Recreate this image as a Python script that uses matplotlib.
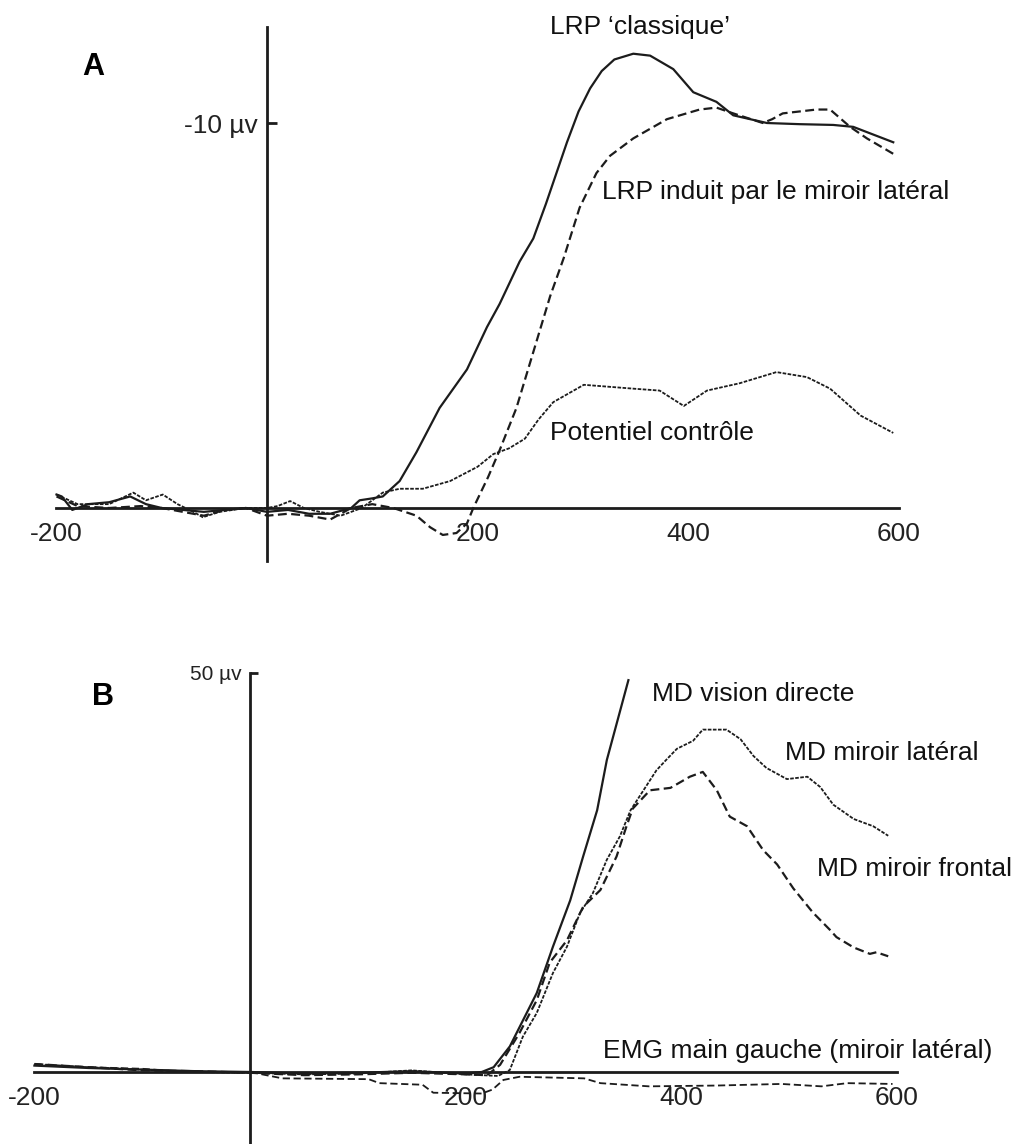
import matplotlib
matplotlib.use('Agg')
import matplotlib.pyplot as plt

plt.rcParams['font.family'] = ['Liberation Sans', 'DejaVu Sans']

# ---- panel A : LRP (µV, negative up) ----
t_classique = [-200, -195, -185, -170, -150, -130, -115, -100, -80, -60, -40, -20, 0, 20, 40, 60,
               80, 88, 100, 110, 126, 142, 164, 190, 209, 221, 240, 253, 265, 285, 296, 307, 318,
               330, 348, 364, 386, 405, 427, 443, 475, 506, 538, 557, 595]
v_classique = [-0.35, -0.3, 0.05, -0.1, -0.15, -0.3, -0.1, 0.0, 0.05, 0.1, 0.05, 0.0, 0.1, 0.05,
               0.15, 0.15, 0.0, -0.2, -0.25, -0.3, -0.7, -1.45, -2.6, -3.6, -4.7, -5.3, -6.4,
               -7.0, -7.9, -9.5, -10.3, -10.9, -11.35, -11.65, -11.8, -11.75, -11.4, -10.8,
               -10.55, -10.2, -10.0, -9.97, -9.95, -9.9, -9.5]

t_miroir = [-200, -180, -150, -120, -100, -80, -60, -40, -20, 0, 20, 40, 60, 80, 100, 120, 142,
            155, 167, 180, 190, 196, 210, 221, 237, 253, 269, 282, 297, 313, 326, 348, 380, 411,
            427, 443, 471, 480, 490, 522, 535, 554, 570, 595]
v_miroir = [-0.3, -0.05, 0.0, -0.05, 0.0, 0.1, 0.2, 0.05, 0.0, 0.2, 0.15, 0.2, 0.3, 0.0, -0.1,
            0.0, 0.2, 0.5, 0.7, 0.65, 0.4, 0.0, -0.8, -1.5, -2.6, -4.05, -5.5, -6.5, -7.8, -8.7,
            -9.15, -9.6, -10.1, -10.35, -10.4, -10.25, -10.0, -10.1, -10.25, -10.35, -10.35,
            -9.9, -9.6, -9.2]

t_controle = [-200, -180, -150, -127, -115, -99, -85, -70, -61, -45, -20, 0, 10, 22, 35, 50, 70,
              90, 110, 126, 148, 174, 200, 215, 230, 245, 258, 272, 301, 348, 373, 396, 418, 449,
              484, 513, 535, 564, 595]
v_controle = [-0.35, -0.1, -0.1, -0.4, -0.2, -0.35, -0.1, 0.1, 0.24, 0.1, 0.0, 0.0, -0.05, -0.18,
              0.0, 0.1, 0.2, 0.0, -0.4, -0.5, -0.5, -0.7, -1.07, -1.4, -1.55, -1.8, -2.3, -2.75,
              -3.2, -3.1, -3.05, -2.65, -3.05, -3.24, -3.53, -3.4, -3.1, -2.4, -1.95]

# ---- panel B : EMG (µV) ----
t_directe = [-200, -150, -100, -50, 0, 50, 100, 150, 200, 215, 226, 241, 266, 281, 297, 309, 322,
             331, 351]
v_directe = [0.8, 0.5, 0.3, 0.1, 0.0, -0.2, -0.1, 0.1, -0.2, 0.0, 0.6, 3.2, 9.9, 15.7, 21.5, 27.0,
             32.8, 39.1, 49.1]

t_lateral = [-200, -150, -100, -50, 0, 50, 100, 150, 200, 230, 241, 253, 266, 281, 294, 306, 318,
             331, 343, 353, 365, 377, 386, 396, 411, 420, 442, 455, 467, 479, 498, 517, 529, 541,
             560, 578, 592]
v_lateral = [0.9, 0.6, 0.3, 0.0, -0.1, -0.3, -0.2, 0.2, -0.3, -0.5, 0.25, 4.4, 7.4, 12.4, 15.7,
             19.9, 22.4, 26.6, 29.5, 32.8, 35.3, 37.8, 39.1, 40.5, 41.5, 42.9, 42.9, 41.7, 39.6,
             38.1, 36.7, 37.0, 35.7, 33.5, 31.7, 30.8, 29.6]

t_frontal = [-200, -150, -100, -50, 0, 50, 100, 150, 200, 220, 232, 250, 266, 278, 294, 309, 325,
             340, 349, 355, 371, 390, 408, 420, 433, 445, 461, 476, 489, 504, 522, 538, 544, 560,
             575, 581, 592]
v_frontal = [1.0, 0.6, 0.2, 0.1, -0.1, -0.4, -0.3, -0.1, -0.3, -0.4, 0.9, 4.9, 9.0, 13.7, 16.5,
             20.7, 22.8, 27.0, 30.7, 33.0, 35.3, 35.6, 37.0, 37.6, 35.3, 32.0, 30.8, 27.8, 26.0,
             23.0, 20.0, 17.8, 16.9, 15.6, 14.8, 15.0, 14.5]

t_emg = [-200, -150, -100, -60, 0, 30, 110, 120, 160, 170, 215, 225, 235, 250, 310, 325, 370, 433,
         493, 530, 554, 596]
v_emg = [1.0, 0.6, 0.4, 0.0, 0.0, -0.8, -0.9, -1.4, -1.6, -2.6, -2.7, -2.2, -1.0, -0.6, -0.8,
         -1.4, -1.8, -1.7, -1.5, -1.8, -1.4, -1.5]

xtick_vals = [-200, 200, 400, 600]
xtick_labels = ['-200', '200', '400', '600']

ink = '#1c1c1c'
fig = plt.figure(figsize=(10.16, 11.44), dpi=100)


def style_axes(ax, ybounds):
    for s in ['top', 'right']:
        ax.spines[s].set_visible(False)
    ax.spines['left'].set_position(('data', 0))
    ax.spines['bottom'].set_position(('data', 0))
    ax.spines['left'].set_bounds(*ybounds)
    ax.spines['bottom'].set_bounds(-200, 600)
    for s in ['left', 'bottom']:
        ax.spines[s].set_linewidth(2.0)
        ax.spines[s].set_color(ink)
    ax.set_xticks(xtick_vals, labels=xtick_labels)
    ax.set_xticks([200, 400], minor=True)
    ax.tick_params(axis='x', which='major', length=0, pad=10, labelsize=19, labelcolor='#222222')
    ax.tick_params(axis='x', which='minor', direction='in', length=8, width=2, color=ink)
    ax.patch.set_visible(False)


# panel A
axA = fig.add_axes([0.03489, 0.5021, 0.8702, 0.4846])
axA.set_xlim(-220, 620)
axA.set_ylim(1.6, -12.8)
style_axes(axA, (1.38, -12.5))
axA.set_yticks([-10], labels=['-10 µv'])
axA.tick_params(axis='y', direction='in', length=7, width=2, color=ink, pad=6.5,
                labelsize=19, labelcolor='#222222')
axA.plot(t_classique, v_classique, color=ink, lw=1.6)
axA.plot(t_miroir, v_miroir, color=ink, lw=1.6, linestyle=(0, (4, 2)))
axA.plot(t_controle, v_controle, color=ink, lw=1.3, linestyle=(0, (2, 0.8)))
axA.text(-165, -11.45, 'A', fontsize=22, fontweight='bold', ha='center', va='center')
axA.text(269, -12.5, 'LRP ‘classique’', fontsize=19, ha='left', va='center', color='#111111')
axA.text(318, -8.2, 'LRP induit par le miroir latéral', fontsize=19, ha='left', va='center',
         color='#111111')
axA.text(269, -1.95, 'Potentiel contrôle', fontsize=19, ha='left', va='center', color='#111111')

# panel B
axB = fig.add_axes([0.01264, -0.0068, 0.8913, 0.4325])
axB.set_xlim(-220, 620)
axB.set_ylim(-10, 52)
style_axes(axB, (-10, 50))
axB.set_yticks([50], labels=['50 µv'])
axB.tick_params(axis='y', direction='in', length=6, width=2, color=ink, pad=6,
                labelsize=15, labelcolor='#222222')
axB.plot(t_directe, v_directe, color=ink, lw=1.6)
axB.plot(t_lateral, v_lateral, color=ink, lw=1.3, linestyle=(0, (2, 0.8)))
axB.plot(t_frontal, v_frontal, color=ink, lw=1.6, linestyle=(0, (4, 2)))
axB.plot(t_emg, v_emg, color=ink, lw=1.3, linestyle=(0, (4, 2)))
axB.text(-136, 47, 'B', fontsize=22, fontweight='bold', ha='center', va='center')
axB.text(373, 47.4, 'MD vision directe', fontsize=19, ha='left', va='center', color='#111111')
axB.text(496, 40, 'MD miroir latéral', fontsize=19, ha='left', va='center', color='#111111')
axB.text(526, 25.4, 'MD miroir frontal', fontsize=19, ha='left', va='center', color='#111111')
axB.text(327, 2.6, 'EMG main gauche (miroir latéral)', fontsize=19, ha='left', va='center',
         color='#111111')

fig.savefig('out.png', dpi=100)
